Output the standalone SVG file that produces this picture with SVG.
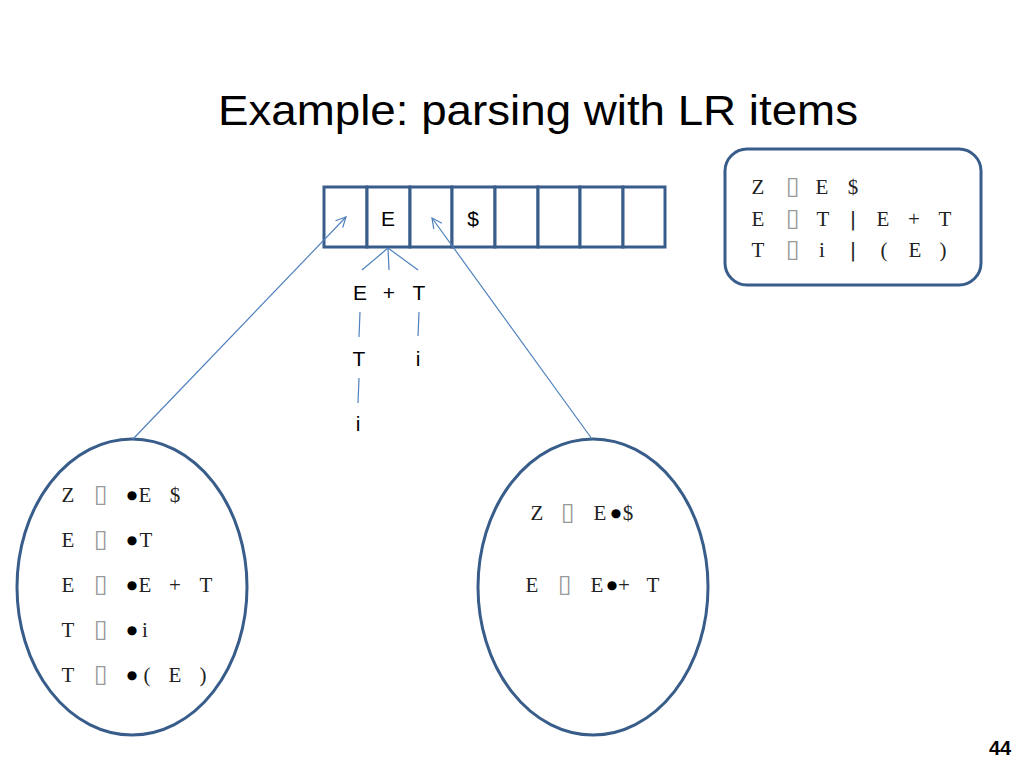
<svg xmlns="http://www.w3.org/2000/svg" width="1024" height="768" viewBox="0 0 1024 768">
<defs>
<style>
.shape{fill:#fff;stroke:#385d8a;stroke-width:3}
.cell{fill:#fff;stroke:#385d8a;stroke-width:3}
.conn{fill:none;stroke:#4f81bd;stroke-width:1.2}
.serif{font-family:"Liberation Serif","DejaVu Serif",serif;font-size:21px;fill:#222;text-anchor:middle}
.box{font-family:"DejaVu Sans",sans-serif;font-size:25px;fill:#999}
.dot{font-family:"DejaVu Sans",sans-serif;font-size:12px;fill:#000}
.bar{font-family:"DejaVu Sans Mono",monospace;font-size:20px}
.sans{font-family:"Liberation Sans","Open Sans",sans-serif;font-size:21px;fill:#000;text-anchor:middle}
.title{font-family:"Liberation Sans","Open Sans",sans-serif;font-size:42px;fill:#000}
.num{font-family:"Liberation Sans",sans-serif;font-size:20px;font-weight:bold;fill:#000}
</style>
<marker id="arr" viewBox="0 0 12 12" refX="11" refY="6" markerWidth="12" markerHeight="12" markerUnits="userSpaceOnUse" orient="auto">
<path d="M1,1 L11,6 L1,11" fill="none" stroke="#4f81bd" stroke-width="1.2"/>
</marker>
</defs>
<rect width="1024" height="768" fill="#fff"/>
<text class="title" x="538" y="125" text-anchor="middle" textLength="640" lengthAdjust="spacingAndGlyphs">Example: parsing with LR items</text>

<g id="tape">
<rect class="cell" x="324" y="187" width="43" height="60"/>
<rect class="cell" x="367" y="187" width="43" height="60"/>
<rect class="cell" x="410" y="187" width="42" height="60"/>
<rect class="cell" x="452" y="187" width="43" height="60"/>
<rect class="cell" x="495" y="187" width="43" height="60"/>
<rect class="cell" x="538" y="187" width="42" height="60"/>
<rect class="cell" x="580" y="187" width="43" height="60"/>
<rect class="cell" x="623" y="187" width="42" height="60"/>
<text class="sans" x="388" y="226">E</text>
<text class="sans" x="473" y="226">$</text>
</g>

<g id="grammar">
<rect class="shape" x="725" y="149" width="256" height="136" rx="22"/>
<text class="serif" y="194"><tspan x="758">Z</tspan><tspan class="box" x="793">▯</tspan><tspan x="822">E</tspan><tspan x="853">$</tspan></text>
<text class="serif" y="226"><tspan x="758">E</tspan><tspan class="box" x="793">▯</tspan><tspan x="823">T</tspan><tspan class="bar" x="853">|</tspan><tspan x="883">E</tspan><tspan x="914">+</tspan><tspan x="945">T</tspan></text>
<text class="serif" y="257"><tspan x="758">T</tspan><tspan class="box" x="793">▯</tspan><tspan x="822">i</tspan><tspan class="bar" x="853">|</tspan><tspan x="884">(</tspan><tspan x="915">E</tspan><tspan x="943">)</tspan></text>
</g>

<g id="tree">
<text class="sans" x="360" y="300">E</text>
<text class="sans" x="389" y="300">+</text>
<text class="sans" x="419" y="300">T</text>
<text class="sans" x="359" y="366">T</text>
<text class="sans" x="418" y="366">i</text>
<text class="sans" x="358" y="431">i</text>
</g>

<g id="state0">
<ellipse class="shape" cx="132" cy="587" rx="115" ry="148"/>
<text class="serif" y="502"><tspan x="68">Z</tspan><tspan class="box" x="101">▯</tspan><tspan class="dot" x="132" y="499">●</tspan><tspan x="145" y="502">E</tspan><tspan x="175">$</tspan></text>
<text class="serif" y="547"><tspan x="68">E</tspan><tspan class="box" x="101">▯</tspan><tspan class="dot" x="132" y="544">●</tspan><tspan x="146" y="547">T</tspan></text>
<text class="serif" y="592"><tspan x="68">E</tspan><tspan class="box" x="101">▯</tspan><tspan class="dot" x="132" y="589">●</tspan><tspan x="145" y="592">E</tspan><tspan x="175">+</tspan><tspan x="206">T</tspan></text>
<text class="serif" y="637"><tspan x="68">T</tspan><tspan class="box" x="101">▯</tspan><tspan class="dot" x="132" y="634">●</tspan><tspan x="145" y="637">i</tspan></text>
<text class="serif" y="682"><tspan x="68">T</tspan><tspan class="box" x="101">▯</tspan><tspan class="dot" x="132" y="679">●</tspan><tspan x="147" y="682">(</tspan><tspan x="175">E</tspan><tspan x="203">)</tspan></text>
</g>

<g id="state1">
<ellipse class="shape" cx="593" cy="587" rx="115" ry="148"/>
<text class="serif" y="520"><tspan x="537">Z</tspan><tspan class="box" x="568">▯</tspan><tspan x="600">E</tspan><tspan class="dot" x="616" y="517">●</tspan><tspan x="628" y="520">$</tspan></text>
<text class="serif" y="592"><tspan x="532">E</tspan><tspan class="box" x="565">▯</tspan><tspan x="597">E</tspan><tspan class="dot" x="612" y="589">●</tspan><tspan x="624" y="592">+</tspan><tspan x="653">T</tspan></text>
</g>

<g id="connectors">
<path class="conn" d="M133,439 L346,217" marker-end="url(#arr)"/>
<path class="conn" d="M592,439 L432,218" marker-end="url(#arr)"/>
<path class="conn" d="M388,248 L362,270"/>
<path class="conn" d="M388,248 L389,270"/>
<path class="conn" d="M388,248 L418,270"/>
<path class="conn" d="M360,312 L359,337"/>
<path class="conn" d="M419,312 L418,336"/>
<path class="conn" d="M359,378 L358,403"/>
</g>

<text class="num" x="1000" y="755" text-anchor="middle">44</text>
</svg>
